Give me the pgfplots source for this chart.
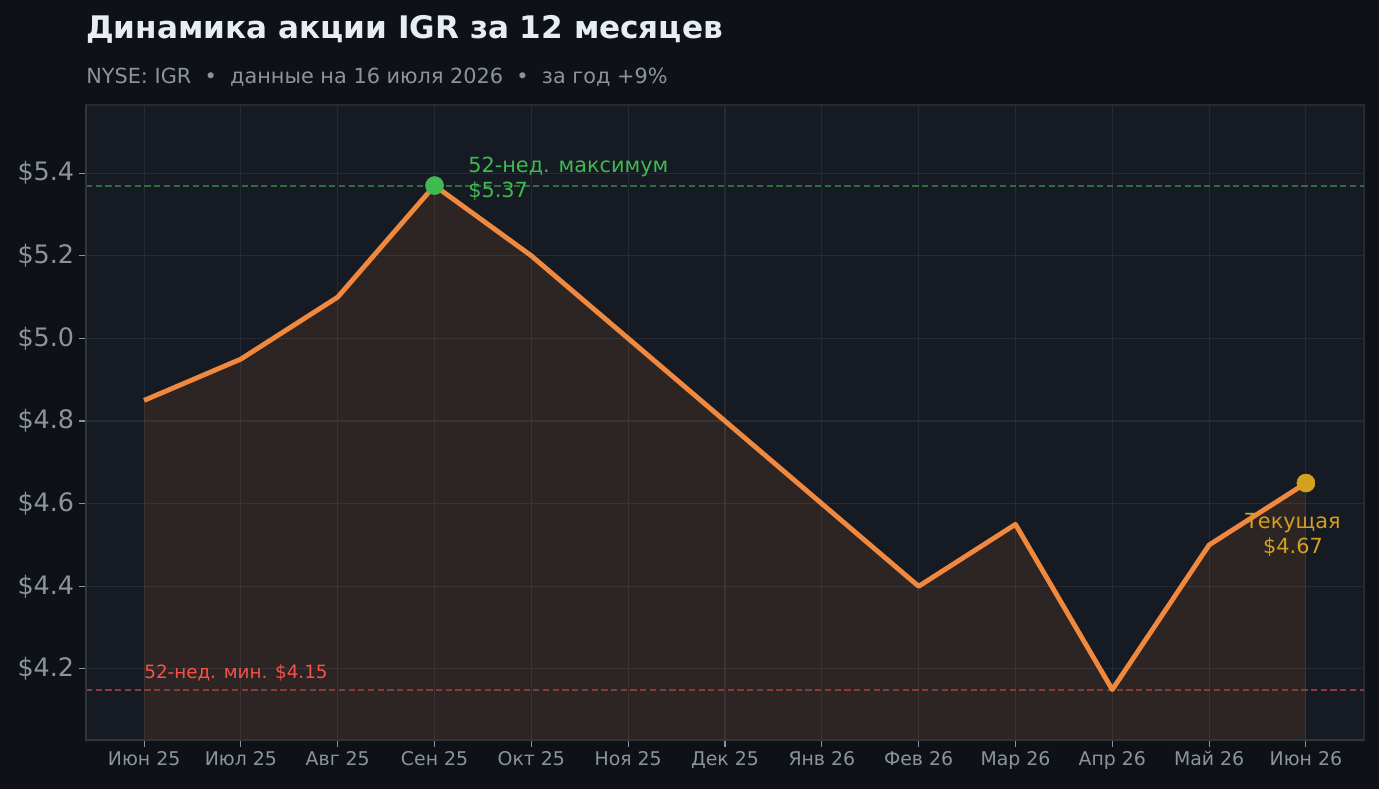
\documentclass[border=0pt]{standalone}
\usepackage{pgfplots}
\pgfplotsset{compat=1.18}
\usepackage{fontspec}
\setmainfont{DejaVu Sans}
\definecolor{figbg}{HTML}{0E1217}
\definecolor{axbg}{HTML}{161A22}
\definecolor{gridc}{HTML}{262B33}
\definecolor{spine}{HTML}{30363D}
\definecolor{ticktxt}{HTML}{8B949E}
\definecolor{titletxt}{HTML}{E6EDF3}
\definecolor{lineor}{HTML}{F0883E}
\definecolor{hig}{HTML}{3FB950}
\definecolor{lor}{HTML}{F85149}
\definecolor{cur}{HTML}{D4A020}
\definecolor{hiline}{HTML}{2F6B3D}
\definecolor{loline}{HTML}{8A3A3A}
\pgfplotstableread{
x y
0 4.85
1 4.95
2 5.10
3 5.37
4 5.20
5 5.00
6 4.80
7 4.60
8 4.40
9 4.55
10 4.15
11 4.50
12 4.65
}\price
\pgfplotstableread{
x y
-0.6 5.37
12.6 5.37
}\hiref
\pgfplotstableread{
x y
-0.6 4.15
12.6 4.15
}\loref
\begin{document}
\begin{tikzpicture}
\fill[figbg] (0,0) rectangle (992.88pt,568.08pt);
\node[anchor=base west,inner sep=0pt,text=titletxt,font=\fontsize{22.4}{26}\selectfont\bfseries] at (61.92pt,540pt) {Динамика акции IGR за 12 месяцев};
\node[anchor=base west,inner sep=0pt,text=ticktxt,font=\fontsize{15}{18}\selectfont] at (61.92pt,507.6pt) {NYSE: IGR \ •\ \ данные на 16 июля 2026 \ •\ \ за год +9\%};
\begin{axis}[
  at={(61.92pt,35.28pt)}, anchor=south west,
  scale only axis, width=920.16pt, height=457.2pt,
  xmin=-0.6, xmax=12.6, ymin=4.028, ymax=5.565,
  axis background/.style={fill=axbg},
  axis line style={draw=gridc, line width=0.8pt},
  grid=major, grid style={draw=gridc, line width=0.8pt},
  xtick={0,...,12},
  xticklabels={Июн 25,Июл 25,Авг 25,Сен 25,Окт 25,Ноя 25,Дек 25,Янв 26,Фев 26,Мар 26,Апр 26,Май 26,Июн 26},
  ytick={4.2,4.4,4.6,4.8,5.0,5.2,5.4},
  yticklabels={\$4.2,\$4.4,\$4.6,\$4.8,\$5.0,\$5.2,\$5.4},
  tick align=outside, major tick length=5pt,
  tick style={draw=ticktxt, line width=0.8pt},
  xtick pos=bottom, ytick pos=left,
  xticklabel style={font=\fontsize{13.6}{16}\selectfont, text=ticktxt, text height=10pt, text depth=3pt},
  yticklabel style={font=\fontsize{18.3}{20}\selectfont, text=ticktxt},
  clip=true,
]
\addplot[draw=none, fill=lineor, fill opacity=0.1] table {\price} \closedcycle;
\addplot[hiline, solid, line width=1.4pt, dash pattern=on 4.5pt off 2.5pt] table {\hiref};
\addplot[loline, solid, line width=1.4pt, dash pattern=on 4.5pt off 2.5pt] table {\loref};
\addplot[color=lineor, line width=3.5pt, line join=round, mark=none] table {\price};
\addplot[only marks, mark=*, mark size=6.5pt, color=hig] coordinates {(3,5.37)};
\addplot[only marks, mark=*, mark size=6.5pt, color=cur] coordinates {(12,4.65)};
\node[anchor=west, align=left, inner sep=0pt, text=hig, font=\fontsize{15}{18}\selectfont] at (axis cs:3.346,5.3865) {52-нед. максимум\\\$5.37};
\node[anchor=center, align=center, inner sep=0pt, text=cur, font=\fontsize{15}{18}\selectfont] at (axis cs:11.866,4.524) {Текущая\\\$4.67};
\node[anchor=base west, inner sep=0pt, text=lor, font=\fontsize{13.2}{15}\selectfont] at (axis cs:0,4.176) {52-нед. мин. \$4.15};
\end{axis}
\draw[spine, line width=1pt] (61.92pt,492.48pt) -- (61.92pt,35.28pt) -- (982.08pt,35.28pt);
\end{tikzpicture}
\end{document}
